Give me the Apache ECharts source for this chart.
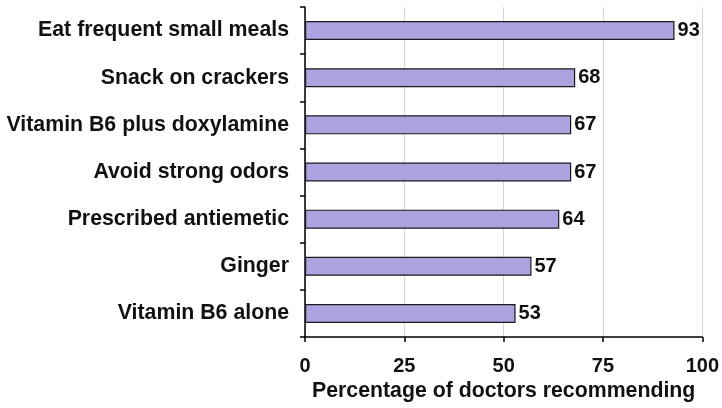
<!DOCTYPE html>
<html>
<head>
<meta charset="utf-8">
<script src="https://cdn.jsdelivr.net/npm/echarts@6/dist/echarts.min.js"></script>
<style>
  html, body { margin: 0; padding: 0; background: #fff; }
  #chart { width: 722px; height: 408px; }
</style>
</head>
<body>
<div id="chart"></div>
<script>
const categories = [
  'Eat frequent small meals',
  'Snack on crackers',
  'Vitamin B6 plus doxylamine',
  'Avoid strong odors',
  'Prescribed antiemetic',
  'Ginger',
  'Vitamin B6 alone'
];
const values = [93, 68, 67, 67, 64, 57, 53];
const xTicks = [0, 25, 50, 75, 100];

const chart = echarts.init(document.getElementById('chart'));
const font = 'Liberation Sans, Arial, sans-serif';

chart.setOption({
  animation: false,
  grid: { left: 305, right: 17, top: 7, bottom: 71 },
  xAxis: {
    type: 'value',
    min: xTicks[0],
    max: xTicks[xTicks.length - 1],
    interval: 25,
    name: 'Percentage of doctors recommending',
    nameLocation: 'middle',
    nameGap: 39,
    nameTextStyle: { fontFamily: font, fontWeight: 'bold', fontSize: 21.3, color: '#111' },
    axisLine: { show: true, lineStyle: { color: '#000', width: 1.5 } },
    axisTick: { show: true, length: 5, lineStyle: { color: '#000', width: 1.5 } },
    axisLabel: { fontFamily: font, fontWeight: 'bold', fontSize: 20, color: '#111', margin: 19 },
    splitLine: { show: true, lineStyle: { color: '#d4d4d4', width: 1 } }
  },
  yAxis: {
    type: 'category',
    data: categories,
    inverse: true,
    axisLine: { show: true, lineStyle: { color: '#000', width: 1.5 } },
    axisTick: { show: true, length: 5, lineStyle: { color: '#000', width: 1.5 } },
    axisLabel: { fontFamily: font, fontWeight: 'bold', fontSize: 21.3, color: '#111', margin: 16 },
    splitLine: { show: false }
  },
  series: [{
    type: 'bar',
    data: values,
    barWidth: 19,
    itemStyle: { color: '#aba3e0', borderColor: '#1a1a1a', borderWidth: 1.2 },
    label: {
      show: true,
      position: 'right',
      distance: 3,
      fontFamily: font,
      fontWeight: 'bold',
      fontSize: 20,
      color: '#111'
    }
  }]
});
</script>
</body>
</html>
